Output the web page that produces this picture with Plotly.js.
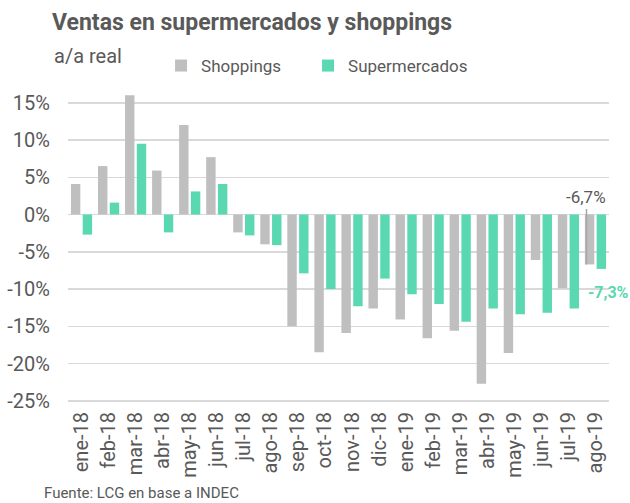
<!DOCTYPE html>
<html>
<head>
<meta charset="utf-8">
<script src="https://cdn.plot.ly/plotly-3.0.1.min.js"></script>
<style>html,body{margin:0;padding:0;background:#fff;}#chart{width:630px;height:503px;}</style>
</head>
<body>
<div id="chart"></div>
<script>
const categories = ['ene-18','feb-18','mar-18','abr-18','may-18','jun-18','jul-18','ago-18','sep-18','oct-18','nov-18','dic-18','ene-19','feb-19','mar-19','abr-19','may-19','jun-19','jul-19','ago-19'];
const shoppings = [4.1, 6.5, 16.0, 5.9, 12.0, 7.7, -2.4, -4.0, -15.0, -18.5, -15.9, -12.6, -14.1, -16.6, -15.6, -22.7, -18.6, -6.1, -9.9, -6.7];
const supermercados = [-2.7, 1.6, 9.5, -2.4, 3.1, 4.1, -2.8, -4.1, -7.9, -10.0, -12.3, -8.6, -10.7, -12.0, -14.4, -12.6, -13.4, -13.2, -12.6, -7.3];
const yTickVals = [-25, -20, -15, -10, -5, 0, 5, 10, 15];
const yTickText = ['-25%', '-20%', '-15%', '-10%', '-5%', '0%', '5%', '10%', '15%'];
const lastShoppingLabel = '-6,7%';
const lastSuperLabel = '-7,3%';

const GREY = '#BFBFBF';
const TEAL = '#5AD8B2';
const TXT = '#595959';
const FONT = 'Roboto, "Liberation Sans", Arial, sans-serif';
const last = categories.length - 1;

const data = [
  {type: 'bar', name: 'Shoppings', x: categories, y: shoppings, marker: {color: GREY}, hoverinfo: 'skip', legend: 'legend'},
  {type: 'bar', name: 'Supermercados', x: categories, y: supermercados, marker: {color: TEAL}, hoverinfo: 'skip', legend: 'legend2'}
];

const legendStyle = {
  orientation: 'h', xanchor: 'left', y: 1 + (91 - 66) / 312, yanchor: 'middle',
  font: {family: FONT, size: 17, color: TXT}, bgcolor: 'rgba(0,0,0,0)'
};

const layout = {
  width: 630, height: 503,
  margin: {l: 68, r: 21, t: 91, b: 100},
  paper_bgcolor: '#fff', plot_bgcolor: '#fff',
  font: {family: FONT, color: TXT},
  barmode: 'group', bargap: 0.13, bargroupgap: 0.2,
  title: {
    text: '<b>Ventas en supermercados y shoppings</b>',
    font: {family: FONT, size: 23, color: TXT},
    xref: 'container', x: 52 / 630, xanchor: 'left',
    yref: 'container', y: 1 - 22 / 503, yanchor: 'middle'
  },
  showlegend: true,
  legend: Object.assign({}, legendStyle, {x: 0.172}),
  legend2: Object.assign({}, legendStyle, {x: 0.172 + 147 / 541}),
  xaxis: {
    type: 'category', range: [-0.5, categories.length - 0.5], autorange: false,
    tickangle: -90, showgrid: false, zeroline: false, showline: false, ticklabelstandoff: 4,
    ticks: '', tickfont: {family: FONT, size: 20, color: TXT}, fixedrange: true
  },
  yaxis: {
    range: [-25.3, 16.58], autorange: false, tickvals: yTickVals, ticktext: yTickText,
    showgrid: true, gridcolor: '#D9D9D9', gridwidth: 1.5, zeroline: false, showline: false,
    ticklabelstandoff: 17,
    ticks: '', tickfont: {family: FONT, size: 20, color: TXT}, fixedrange: true
  },
  annotations: [
    {xref: 'paper', yref: 'paper', x: (52 - 68) / 541, y: 1 + (91 - 56) / 312, xanchor: 'left', yanchor: 'middle',
     text: 'a/a real', showarrow: false, font: {family: FONT, size: 20, color: TXT}},
    {xref: 'paper', yref: 'paper', x: (42 - 68) / 541, y: 1 - (493 - 91) / 312, xanchor: 'left', yanchor: 'middle',
     text: 'Fuente: LCG en base a INDEC', showarrow: false, font: {family: FONT, size: 15, color: TXT}},
    {x: categories[last], y: shoppings[last], xshift: -9, text: lastShoppingLabel, showarrow: true,
     arrowhead: 0, arrowwidth: 1.5, arrowcolor: '#A6A6A6', standoff: 0, ax: 0, ay: -67,
     font: {family: FONT, size: 17, color: TXT}},
    {x: categories[last], y: -10.5, xshift: 13, text: '<b>' + lastSuperLabel + '</b>', showarrow: false,
     font: {family: FONT, size: 16, color: TEAL}}
  ]
};

Plotly.newPlot('chart', data, layout, {staticPlot: true, displayModeBar: false});
</script>
</body>
</html>
